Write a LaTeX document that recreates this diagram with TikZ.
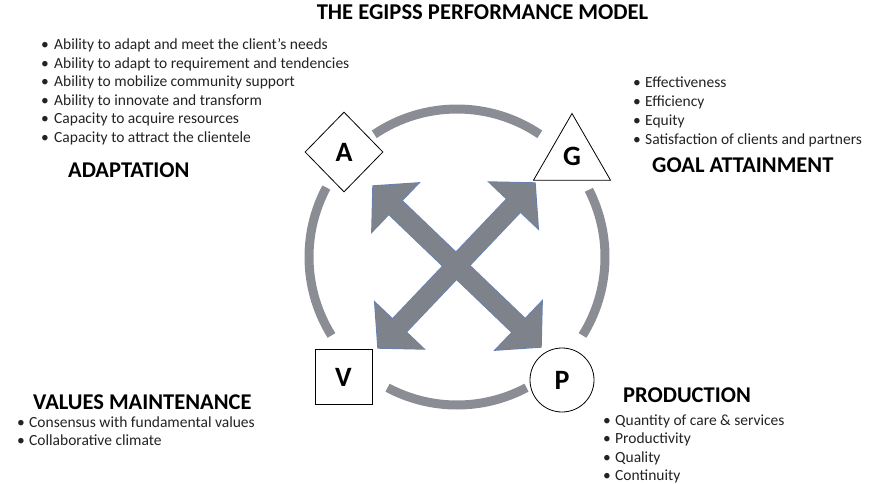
\documentclass[tikz,border=0pt]{standalone}
\usepackage{fontspec}
\setmainfont{Carlito}
\usetikzlibrary{calc,shapes.geometric}

\definecolor{ringgray}{RGB}{138,142,148}
\definecolor{arrowgray}{RGB}{126,131,139}
\definecolor{arrowedge}{RGB}{98,128,185}
\definecolor{txt}{RGB}{35,35,35}

% outline of a straight double-headed arrow between two tips
\newcommand\twoheadpath[2]{%
  (#1)
  -- ($(#1)!31pt!(#2)!34pt!90:(#2)$)
  -- ($(#1)!31pt!(#2)!9.5pt!90:(#2)$)
  -- ($(#2)!31pt!(#1)!9.5pt!-90:(#1)$)
  -- ($(#2)!31pt!(#1)!34pt!-90:(#1)$)
  -- (#2)
  -- ($(#2)!31pt!(#1)!34pt!90:(#1)$)
  -- ($(#2)!31pt!(#1)!9.5pt!90:(#1)$)
  -- ($(#1)!31pt!(#2)!9.5pt!-90:(#2)$)
  -- ($(#1)!31pt!(#2)!34pt!-90:(#2)$)
  -- cycle}

\begin{document}
\begin{tikzpicture}[x=1pt,y=-1pt,
  item/.style={anchor=base west, inner sep=0pt, text=txt,
    font=\fontsize{15.5}{18}\selectfont},
  heading/.style={anchor=base west, inner sep=0pt, text=black,
    font=\bfseries\fontsize{22.5}{26}\selectfont},
  ring/.style={line width=9pt, draw=ringgray},
  letter/.style={font=\bfseries\fontsize{28}{30}\selectfont, inner sep=0pt},
  symbox/.style={draw=black, line width=0.8pt, fill=white}
]
\useasboundingbox[fill=white] (0,0) rectangle (880,484);

% title
\node[anchor=base, inner sep=0pt, font=\bfseries\fontsize{22.6}{26}\selectfont]
  (title) at (482.5,20) {THE EGIPSS PERFORMANCE MODEL};

% ring of four arcs
\coordinate (c) at (457,257);
\draw[ring] (c) ++(-56:148) arc[start angle=-56, end angle=-124, radius=148];
\draw[ring] (c) ++(-152:148) arc[start angle=-152, end angle=-212, radius=148];
\draw[ring] (c) ++(-242:148) arc[start angle=-242, end angle=-298, radius=148];
\draw[ring] (c) ++(32:148) arc[start angle=32, end angle=-27, radius=148];

% crossed double arrows
\coordinate (ul) at (373,186);
\coordinate (lr) at (541,347);
\coordinate (ll) at (378,348);
\coordinate (ur) at (535,183);
\draw[arrowedge, line width=1.4pt, line join=miter] \twoheadpath{ul}{lr};
\draw[arrowedge, line width=1.4pt, line join=miter] \twoheadpath{ll}{ur};
\fill[arrowgray] \twoheadpath{ul}{lr};
\fill[arrowgray] \twoheadpath{ll}{ur};

% the four function symbols
\node[symbox, diamond, minimum width=78pt, minimum height=80pt, inner sep=0pt,
  letter] (A) at (344,152) {A};
\node[symbox, regular polygon, regular polygon sides=3, minimum size=89pt,
  inner sep=0pt] (Gtri) at (572,158) {};
\node[letter] (G) at (572,156) {G};
\node[symbox, rectangle, minimum width=57pt, minimum height=55pt, inner sep=0pt,
  letter] (V) at (343.5,377) {V};
\node[symbox, circle, minimum size=64pt, inner sep=0pt, letter] (P) at (562,380) {P};

% adaptation
\foreach \t [count=\i] in {%
  Ability to adapt and meet the client’s needs,
  Ability to adapt to requirement and tendencies,
  Ability to mobilize community support,
  Ability to innovate and transform,
  Capacity to acquire resources,
  Capacity to attract the clientele}
  \node[item] (a\i) at (41,{50+18.5*(\i-1)}) {\makebox[13pt][l]{\textbullet}\t};
\node[heading] (adapt) at (68,177) {ADAPTATION};

% goal attainment
\foreach \t [count=\i] in {%
  Effectiveness,
  Efficiency,
  Equity,
  Satisfaction of clients and partners}
  \node[item] (g\i) at (633,{88+18.8*(\i-1)}) {\makebox[12pt][l]{\textbullet}\t};
\node[heading] (goal) at (652,172) {GOAL ATTAINMENT};

% values maintenance
\node[heading] (values) at (33,409) {VALUES MAINTENANCE};
\foreach \t [count=\i] in {%
  Consensus with fundamental values,
  Collaborative climate}
  \node[item] (v\i) at (17,{427+18.5*(\i-1)}) {\makebox[12pt][l]{\textbullet}\t};

% production
\node[heading] (prod) at (623,402) {PRODUCTION};
\foreach \t [count=\i] in {%
  Quantity of care \& services,
  Productivity,
  Quality,
  Continuity}
  \node[item] (p\i) at (603,{425+18.5*(\i-1)}) {\makebox[12pt][l]{\textbullet}\t};
\end{tikzpicture}
\end{document}
